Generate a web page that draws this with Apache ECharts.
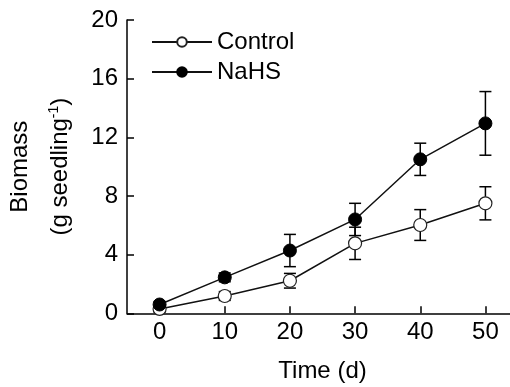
<!DOCTYPE html>
<html><head><meta charset="utf-8">
<script src="https://cdn.jsdelivr.net/npm/echarts@6/dist/echarts.min.js"></script>
<style>html,body{margin:0;padding:0;background:#fff}#c{width:510px;height:387px}</style>
</head><body><div id="c"></div>
<script>
const days = [0, 10, 20, 30, 40, 50];
const controlMean = [0.3, 1.18, 2.22, 4.77, 6.02, 7.5];
const controlErr = [0.2, 0.3, 0.5, 1.1, 1.05, 1.13];
const nahsMean = [0.6, 2.45, 4.28, 6.4, 10.5, 12.95];
const nahsErr = [0.2, 0.3, 1.1, 1.1, 1.1, 2.17];
const xTicks = [0, 10, 20, 30, 40, 50];
const yTicks = [0, 4, 8, 12, 16, 20];

const FONT = 'Liberation Sans';
const chart = echarts.init(document.getElementById('c'));

function errData(mean, err) {
  return days.map((d, i) => [d, mean[i] - err[i], mean[i] + err[i]]);
}
function errRender(params, api) {
  const x = api.value(0);
  const lo = api.coord([x, api.value(1)]);
  const hi = api.coord([x, api.value(2)]);
  const w = 6;
  const st = { stroke: '#000', lineWidth: 1.5 };
  return {
    type: 'group',
    children: [
      { type: 'line', shape: { x1: lo[0], y1: lo[1], x2: hi[0], y2: hi[1] }, style: st },
      { type: 'line', shape: { x1: lo[0] - w, y1: lo[1], x2: lo[0] + w, y2: lo[1] }, style: st },
      { type: 'line', shape: { x1: hi[0] - w, y1: hi[1], x2: hi[0] + w, y2: hi[1] }, style: st }
    ]
  };
}

chart.setOption({
  animation: false,
  backgroundColor: '#fff',
  textStyle: { fontFamily: FONT },
  grid: { left: 127, top: 20, width: 391, height: 293.3, containLabel: false, outerBoundsMode: 'none' },
  legend: {
    orient: 'vertical',
    left: 146,
    top: 25,
    itemWidth: 60,
    itemHeight: 12,
    itemGap: 6,
    textStyle: { fontFamily: FONT, fontSize: 24, color: '#000', lineHeight: 24 },
    data: ['Control', 'NaHS']
  },
  xAxis: {
    type: 'value',
    min: -5, max: 55,
    name: 'Time (d)',
    nameLocation: 'middle',
    nameGap: 46,
    nameTextStyle: { fontFamily: FONT, fontSize: 24, color: '#000' },
    axisLine: { onZero: false, lineStyle: { color: '#000', width: 1.5 } },
    axisTick: { inside: true, length: 7, lineStyle: { color: '#000', width: 1.5 }, customValues: xTicks },
    axisLabel: { fontFamily: FONT, fontSize: 24, color: '#000', margin: 7, customValues: xTicks },
    splitLine: { show: false }
  },
  yAxis: {
    type: 'value',
    min: 0, max: 20, interval: 4,
    name: 'Biomass\n(g seedling{sup|-1})',
    nameLocation: 'middle',
    nameRotate: 90,
    nameGap: 38,
    nameTextStyle: {
      fontFamily: FONT, fontSize: 24, color: '#000', lineHeight: 40, align: 'center',
      rich: { sup: { fontFamily: FONT, fontSize: 14, color: '#000', padding: [0, 0, 12, 0] } }
    },
    axisLine: { show: true, onZero: false, lineStyle: { color: '#000', width: 1.5 } },
    axisTick: { show: true, inside: true, length: 7, lineStyle: { color: '#000', width: 1.5 } },
    axisLabel: { fontFamily: FONT, fontSize: 24, color: '#000', margin: 9,
      formatter: v => yTicks.includes(v) ? String(v) : '' },
    splitLine: { show: false }
  },
  series: [
    {
      type: 'custom', name: 'ctrlErr', renderItem: errRender, z: 1,
      data: errData(controlMean, controlErr), silent: true
    },
    {
      type: 'custom', name: 'nahsErr', renderItem: errRender, z: 1,
      data: errData(nahsMean, nahsErr), silent: true
    },
    {
      type: 'line', name: 'Control', z: 3,
      data: days.map((d, i) => [d, controlMean[i]]),
      symbol: 'circle', symbolSize: 13, showAllSymbol: true,
      lineStyle: { color: '#111', width: 1.5 },
      itemStyle: { color: '#fff', borderColor: '#222', borderWidth: 1.2 }
    },
    {
      type: 'line', name: 'NaHS', z: 4,
      data: days.map((d, i) => [d, nahsMean[i]]),
      symbol: 'circle', symbolSize: 13, showAllSymbol: true,
      lineStyle: { color: '#111', width: 1.5 },
      itemStyle: { color: '#000', borderColor: '#000', borderWidth: 1 }
    }
  ]
});
</script></body></html>
